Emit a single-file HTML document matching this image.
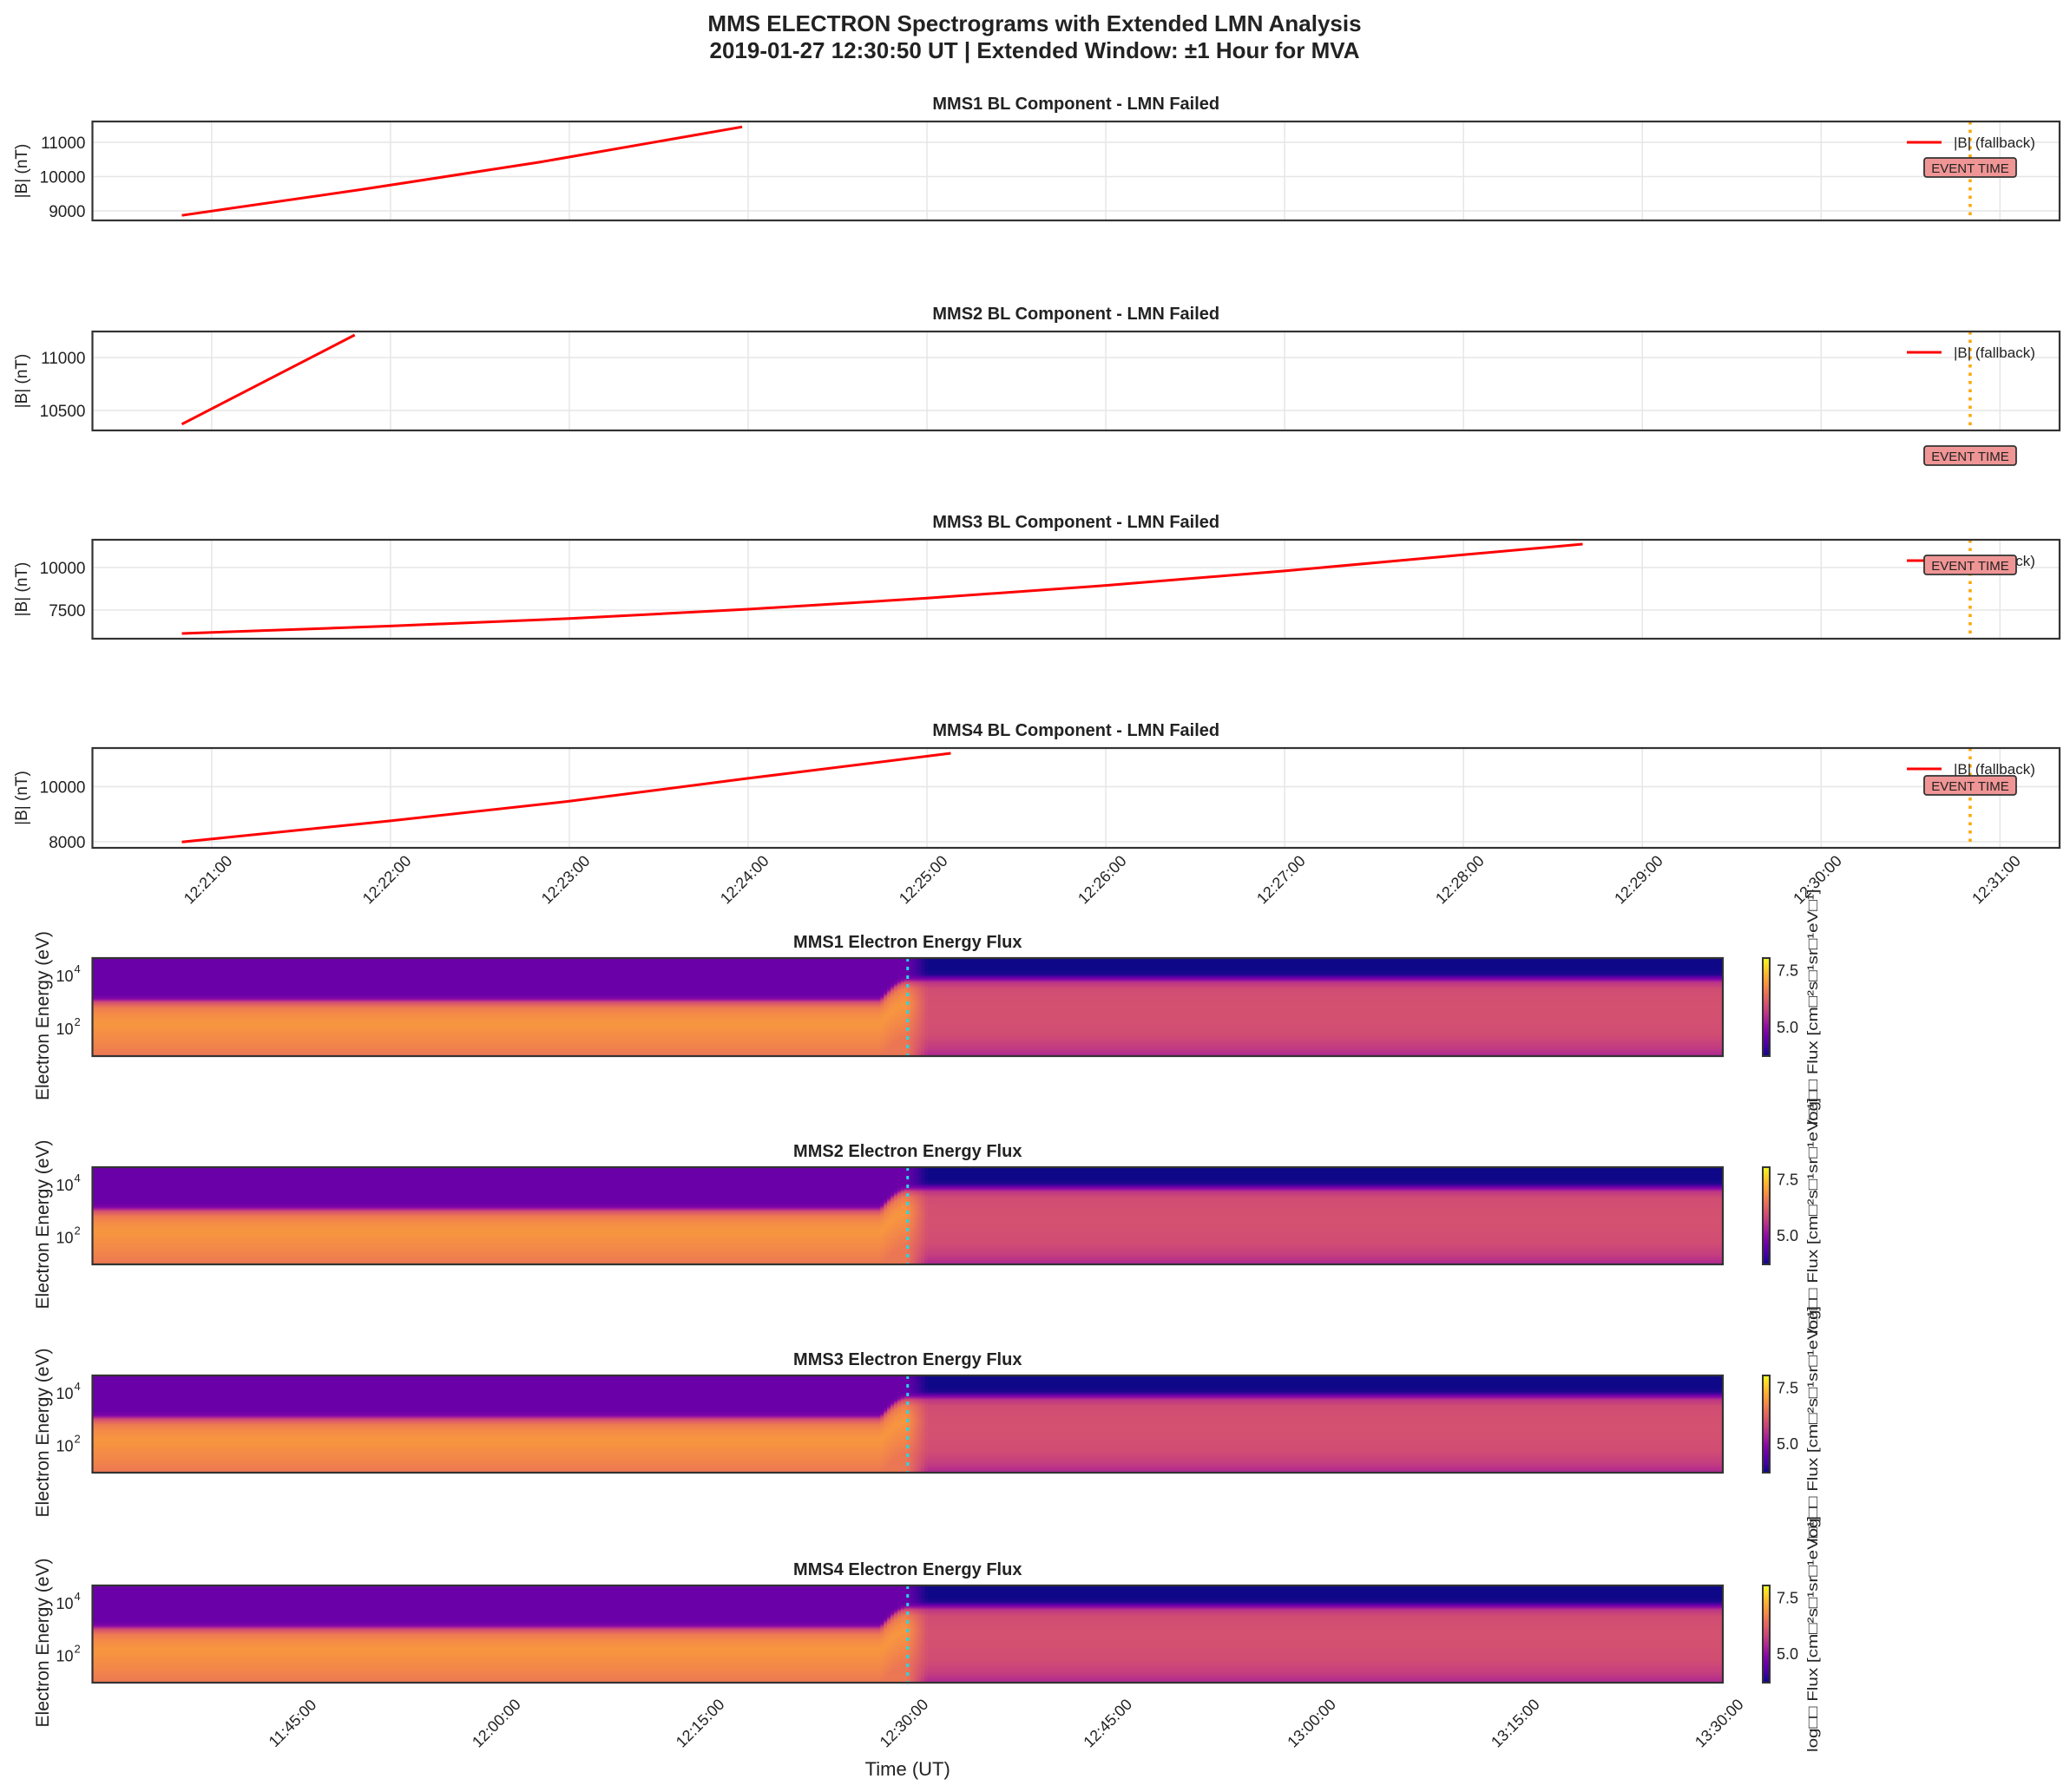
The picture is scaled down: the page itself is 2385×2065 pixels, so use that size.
<!DOCTYPE html>
<html><head><meta charset="utf-8"><title>MMS Electron Spectrograms</title>
<style>
html,body{margin:0;padding:0;background:#fff;}
svg{display:block;font-family:"Liberation Sans",Arial,sans-serif;}
</style></head>
<body>
<svg id="fig" width="2385" height="2065" viewBox="0 0 2385 2065" xmlns="http://www.w3.org/2000/svg">
<text x="1192" y="36" text-anchor="middle" font-size="26" font-weight="bold" fill="#222">MMS ELECTRON Spectrograms with Extended LMN Analysis</text>
<text x="1192" y="67" text-anchor="middle" font-size="26" font-weight="bold" fill="#222">2019-01-27 12:30:50 UT | Extended Window: ±1 Hour for MVA</text>
</svg>
<script>
// ---------- DATA: |B| line panels ----------
const bTimes1 = ['12:20:50','12:21:50','12:22:50','12:23:58'];
const bVals1  = [8870, 9620, 10420, 11450];
const bTimes2 = ['12:20:50','12:21:48'];
const bVals2  = [10370, 11213];
const bTimes3 = ['12:20:50','12:22:00','12:23:00','12:24:00','12:25:00','12:26:00','12:27:00','12:28:00','12:28:40'];
const bVals3  = [6120, 6560, 7000, 7550, 8200, 8950, 9800, 10750, 11380];
const bTimes4 = ['12:20:50','12:22:00','12:23:00','12:24:00','12:25:08'];
const bVals4  = [7990, 8760, 9470, 10300, 11210];
const yTicks1 = [9000, 10000, 11000];
const yTicks2 = [10500, 11000];
const yTicks3 = [7500, 10000];
const yTicks4 = [8000, 10000];
const yRange1 = [8722, 11607];
const yRange2 = [10311, 11246];
const yRange3 = [5816, 11633];
const yRange4 = [7780, 11400];
const lineXTicks = ['12:21:00','12:22:00','12:23:00','12:24:00','12:25:00','12:26:00','12:27:00','12:28:00','12:29:00','12:30:00','12:31:00'];
const lineXRange = ['12:20:20','12:31:20'];
const eventTime = '12:30:50';
// ---------- DATA: spectrograms ----------
const specXRange = ['11:30:00','13:30:00'];
const specXTicks = ['11:45:00','12:00:00','12:15:00','12:30:00','12:45:00','13:00:00','13:15:00','13:30:00'];
const specEventTime = '12:30:00';
const specLogERange = [0.95, 4.66];
const specYTicks = [2, 4];
const preLogE  = [0.95, 1.5, 2.0, 2.2, 2.5, 2.8, 3.0, 3.15, 3.3, 4.66];
const preFlux  = [6.55, 6.75, 6.9, 6.95, 6.85, 6.6, 6.0, 4.8, 4.56, 4.56];
const postLogE = [0.95, 1.3, 1.8, 2.5, 3.0, 3.5, 3.75, 3.9, 4.05, 4.2, 4.66];
const postFlux = [5.35, 5.7, 5.95, 6.0, 6.0, 5.95, 5.6, 4.7, 3.85, 3.7, 3.7];
const transStart = '12:28:00';
const transEnd = '12:31:30';
const cbRange = [3.69, 8.02];
const cbTicks = [5.0, 7.5];

const NS = 'http://www.w3.org/2000/svg';
const fig = document.getElementById('fig');
function mk(tag, attrs, parent){
  const e = document.createElementNS(NS, tag);
  for (const k in attrs) e.setAttribute(k, attrs[k]);
  (parent||fig).appendChild(e);
  return e;
}
function sec(t){const p=t.split(':').map(Number);return p[0]*3600+p[1]*60+p[2];}
function interp(xs, ys, x){
  if (x<=xs[0]) return ys[0];
  for (let i=1;i<xs.length;i++){ if (x<=xs[i]){const f=(x-xs[i-1])/(xs[i]-xs[i-1]);return ys[i-1]+f*(ys[i]-ys[i-1]);} }
  return ys[ys.length-1];
}
const plasmaStops = ['#0d0887','#41049d','#6a00a8','#8f0da4','#b12a90','#cc4778','#e16462','#f2844b','#fca636','#fcce25','#f0f921'];
function hex(c){return [parseInt(c.substr(1,2),16),parseInt(c.substr(3,2),16),parseInt(c.substr(5,2),16)];}
function plasma(t){
  t=Math.max(0,Math.min(1,t));const s=t*10;const i=Math.min(9,Math.floor(s));const f=s-i;
  const a=hex(plasmaStops[i]),b=hex(plasmaStops[i+1]);
  return 'rgb('+a.map((v,k)=>Math.round(v+f*(b[k]-v))).join(',')+')';
}

// ---------- line panels ----------
const X0=106.5, X1=2373;
const lx0=sec(lineXRange[0]), lx1=sec(lineXRange[1]);
function lxs(t){return X0+(sec(t)-lx0)/(lx1-lx0)*(X1-X0);}
const linePanels = [
  {n:1, top:140, bot:254, times:bTimes1, vals:bVals1, ticks:yTicks1, range:yRange1, evY:193, legY:164},
  {n:2, top:382, bot:496, times:bTimes2, vals:bVals2, ticks:yTicks2, range:yRange2, evY:525, legY:406},
  {n:3, top:622, bot:736, times:bTimes3, vals:bVals3, ticks:yTicks3, range:yRange3, evY:651, legY:646},
  {n:4, top:862, bot:977, times:bTimes4, vals:bVals4, ticks:yTicks4, range:yRange4, evY:905, legY:886}
];
linePanels.forEach(p=>{
  const g = mk('g',{});
  
  
  const ys = v => p.bot-(v-p.range[0])/(p.range[1]-p.range[0])*(p.bot-p.top);
  lineXTicks.forEach(t=>{
    const gl=mk('line',{x1:lxs(t),x2:lxs(t),y1:p.top,y2:p.bot,stroke:'#e6e6e6','stroke-width':1.5},g);
    
    
  });
  p.ticks.forEach(v=>{
    const gl=mk('line',{x1:X0,x2:X1,y1:ys(v),y2:ys(v),stroke:'#e6e6e6','stroke-width':1.5},g);
    
    
    const tl=mk('text',{x:X0-8,y:ys(v)+7,'text-anchor':'end','font-size':19,fill:'#222'},g);
    tl.textContent=v;
    
    
  });
  const pts=p.times.map((t,i)=>lxs(t).toFixed(1)+','+ys(p.vals[i]).toFixed(1)).join(' ');
  const pl=mk('polyline',{points:pts,fill:'none',stroke:'#ff0000','stroke-width':3,'stroke-linejoin':'round'},g);
  
  
  const ex=lxs(eventTime);
  const ev=mk('line',{x1:ex,x2:ex,y1:p.top,y2:p.bot,stroke:'#ffa500','stroke-width':3.5,'stroke-dasharray':'3.5,6'},g);
  
  
  const ll=mk('line',{x1:2197,x2:2237,y1:p.legY,y2:p.legY,stroke:'#ff0000','stroke-width':3},g);
  
  
  const lt=mk('text',{x:2251,y:p.legY+6,'font-size':17,fill:'#222'},g);
  lt.textContent='|B| (fallback)';
  
  
  const eb=mk('rect',{x:ex-53,y:p.evY-11,width:106,height:22,rx:3,fill:'#f09595',stroke:'#333','stroke-width':1.8},g);
  
  
  const et=mk('text',{x:ex,y:p.evY+6,'text-anchor':'middle','font-size':15,fill:'#222'},g);
  et.textContent='EVENT TIME';
  
  
  const fr=mk('rect',{x:X0,y:p.top,width:X1-X0,height:p.bot-p.top,fill:'none',stroke:'#333','stroke-width':2.2},g);
  
  
  const ti=mk('text',{x:(X0+X1)/2,y:p.top-14,'text-anchor':'middle','font-size':20,'font-weight':'bold',fill:'#222'},g);
  ti.textContent='MMS'+p.n+' BL Component - LMN Failed';
  
  
  const yl=mk('text',{x:0,y:0,'text-anchor':'middle','font-size':19,fill:'#222',transform:'translate(31,'+((p.top+p.bot)/2)+') rotate(-90)'},g);
  yl.textContent='|B| (nT)';
  
  
});
lineXTicks.forEach(t=>{
  const x=lxs(t);
  const tk=mk('text',{x:0,y:0,'text-anchor':'middle','font-size':18,fill:'#222',transform:'translate('+x+',1018) rotate(-45)'});
  tk.textContent=t;
  
  
});

// ---------- spectrograms ----------
const SX0=106.5, SX1=1985;
const sx0=sec(specXRange[0]), sx1=sec(specXRange[1]);
function sxs(s){return SX0+(s-sx0)/(sx1-sx0)*(SX1-SX0);}
const specPanels=[{n:1,top:1104,bot:1217},{n:2,top:1345,bot:1457},{n:3,top:1585,bot:1697},{n:4,top:1827,bot:1939}];
const ts=sec(transStart), te=sec(transEnd), evs=sec(specEventTime);
function fluxAt(s, le){
  if (s<ts) return interp(preLogE,preFlux,le);
  if (s>=te) return interp(postLogE,postFlux,le);
  const w=(s-ts)/(te-ts);
  const shift=0.75*Math.sin(Math.PI/2*Math.min(1,w*1.7));
  const a=interp(preLogE,preFlux,le-shift);
  const bw=Math.max(0,(w-0.55)/0.45);
  return a*(1-bw)+interp(postLogE,postFlux,le)*bw;
}
const cnorm=f=>(f-cbRange[0])/(cbRange[1]-cbRange[0]);
specPanels.forEach(p=>{
  const g=mk('g',{});
  
  
  const ys=le=>p.bot-(le-specLogERange[0])/(specLogERange[1]-specLogERange[0])*(p.bot-p.top);
  const dE=0.04;
  const cols=[[sx0,ts]];
  for(let s=ts;s<te;s+=15) cols.push([s,s+15]);
  cols.push([te,sx1]);
  cols.forEach(c=>{
    const mid=(c[0]+c[1])/2;
    for(let le=specLogERange[0]; le<specLogERange[1]; le+=dE){
      const y1=ys(Math.min(le+dE,specLogERange[1])), y2=ys(le);
      const r=mk('rect',{x:sxs(c[0]),y:y1,width:sxs(c[1])-sxs(c[0])+0.6,height:y2-y1+0.6,fill:plasma(cnorm(fluxAt(mid,le+dE/2)))},g);
      
      
    }
  });
  const ex=sxs(evs);
  const ev=mk('line',{x1:ex,x2:ex,y1:p.top,y2:p.bot,stroke:'#22d8e8','stroke-width':3,'stroke-dasharray':'4,6'},g);
  
  
  const fr=mk('rect',{x:SX0,y:p.top,width:SX1-SX0,height:p.bot-p.top,fill:'none',stroke:'#333','stroke-width':2.2},g);
  
  
  specYTicks.forEach(v=>{
    const tl=mk('text',{x:SX0-22,y:ys(v)+7,'text-anchor':'end','font-size':18,fill:'#222'},g);
    tl.textContent='10';
    
    
    const sp=mk('text',{x:SX0-21,y:ys(v)-3,'font-size':13,fill:'#222'},g);
    sp.textContent=v;
    
    
  });
  const ti=mk('text',{x:(SX0+SX1)/2,y:p.top-12,'text-anchor':'middle','font-size':20,'font-weight':'bold',fill:'#222'},g);
  ti.textContent='MMS'+p.n+' Electron Energy Flux';
  
  
  const yl=mk('text',{x:0,y:0,'text-anchor':'middle','font-size':21,fill:'#222',transform:'translate(56,'+((p.top+p.bot)/2+10)+') rotate(-90)'},g);
  yl.textContent='Electron Energy (eV)';
  
  
  // colorbar
  const cbx=2031, cbw=8;
  const cys=f=>p.bot-cnorm(f)*(p.bot-p.top);
  for(let i=0;i<60;i++){
    const f0=cbRange[0]+i/60*(cbRange[1]-cbRange[0]), f1=cbRange[0]+(i+1)/60*(cbRange[1]-cbRange[0]);
    const r=mk('rect',{x:cbx,y:cys(f1),width:cbw,height:cys(f0)-cys(f1)+0.5,fill:plasma(cnorm((f0+f1)/2))},g);
    
    
  }
  const cf=mk('rect',{x:cbx,y:p.top,width:cbw,height:p.bot-p.top,fill:'none',stroke:'#333','stroke-width':2},g);
  
  
  cbTicks.forEach(v=>{
    const tl=mk('text',{x:cbx+16,y:cys(v)+7,'font-size':18,fill:'#222'},g);
    tl.textContent=v.toFixed(1);
    
    
  });
  const cl=mk('text',{x:0,y:0,'text-anchor':'middle','font-size':17,'textLength':272,'lengthAdjust':'spacingAndGlyphs',fill:'#222',transform:'translate(2094,'+((p.top+p.bot)/2)+') rotate(-90)'},g);
  cl.textContent='log\u25A1\u25A1 Flux [cm\u25A1\u00B2s\u25A1\u00B9sr\u25A1\u00B9eV\u25A1\u00B9]';
  
  
});
specXTicks.forEach(t=>{
  const x=sxs(sec(t));
  const tk=mk('text',{x:0,y:0,'text-anchor':'middle','font-size':18,fill:'#222',transform:'translate('+x+',1990) rotate(-45)'});
  tk.textContent=t;
  
  
});
const xt=mk('text',{x:(SX0+SX1)/2,y:2046,'text-anchor':'middle','font-size':22,fill:'#222'});
xt.textContent='Time (UT)';


</script>
</body></html>
